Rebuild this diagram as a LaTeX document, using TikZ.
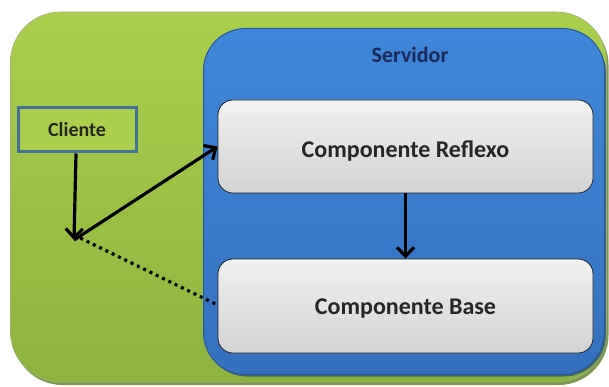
\documentclass[tikz,border=0pt]{standalone}
\usepackage{fontspec}
\setmainfont{Carlito}
\usetikzlibrary{arrows.meta,shadows}
\definecolor{grnTop}{HTML}{ABCF4C}
\definecolor{grnBot}{HTML}{8DB23E}
\definecolor{grnEdge}{HTML}{5E7F24}
\definecolor{bluTop}{HTML}{3F86DA}
\definecolor{bluBot}{HTML}{3470BE}
\definecolor{bluEdge}{HTML}{2A5A9C}
\definecolor{cliEdge}{HTML}{44709A}
\definecolor{navy}{HTML}{1B2A58}
\definecolor{boxTop}{HTML}{F2F2F0}
\definecolor{boxBot}{HTML}{D2D2D2}
% lowers a label so that its baseline sits the given distance below the node centre
\newcommand{\lowered}[2]{\raisebox{-#1}[0pt][0pt]{#2}}
\tikzset{
  outerbox/.style={rectangle, rounded corners=50pt, inner sep=0pt,
    top color=grnTop, bottom color=grnBot, draw=grnEdge!60, line width=0.6pt,
    drop shadow={shadow xshift=2pt, shadow yshift=-3pt, fill=grnEdge, opacity=0.8}},
  serverbox/.style={rectangle, rounded corners=42pt, inner sep=0pt,
    top color=bluTop, bottom color=bluBot, draw=bluEdge, line width=1pt,
    drop shadow={shadow xshift=1.5pt, shadow yshift=-2pt, fill=bluEdge!80!black, opacity=0.7}},
  compbox/.style={rectangle, rounded corners=15pt, inner sep=0pt,
    top color=boxTop, bottom color=boxBot, draw=black!85, line width=0.8pt,
    minimum width=375pt, minimum height=93pt,
    font=\bfseries\fontsize{24}{28}\selectfont, text=black!85},
  clientbox/.style={rectangle, inner sep=0pt, draw=cliEdge, line width=3pt,
    fill=grnTop, minimum width=118pt, minimum height=44pt,
    font=\bfseries\fontsize{20}{24}\selectfont, text=black!85},
  flow/.style={line width=3.2pt, -{Straight Barb[length=9pt,width=17pt,line width=3.2pt]}},
  dotted link/.style={line width=3.2pt, dash pattern=on 3pt off 4pt}
}
\begin{document}
\begin{tikzpicture}[x=1pt,y=-1pt]
  \useasboundingbox (0,0) rectangle (609,387);
  % outer container and server area
  \node[outerbox, minimum width=596pt, minimum height=370pt] (env) at (308.5,197) {};
  \node[serverbox, minimum width=401pt, minimum height=346pt] (srv) at (404,201.5) {};
  \node[font=\bfseries\fontsize{22}{26}\selectfont, text=navy] (srvlabel) at (410,55) {Servidor};
  % components inside the server
  \node[compbox] (refl) at (405.5,146.5) {\lowered{11pt}{Componente Reflexo}};
  \node[compbox, minimum height=94pt] (base) at (405.5,306) {\lowered{8.5pt}{Componente Base}};
  % client
  \node[clientbox] (cli) at (77,130) {\lowered{6.5pt}{Cliente}};
  \coordinate (hub) at (74,240);
  % connectors
  \draw[flow] (cli.south -| 76,0) -- (hub);
  \draw[flow] (hub) -- (refl.west);
  \draw[flow] (refl.south) -- (base.north);
  \draw[dotted link] ([yshift=5pt]hub) -- ([yshift=1pt]base.west);
\end{tikzpicture}
\end{document}
